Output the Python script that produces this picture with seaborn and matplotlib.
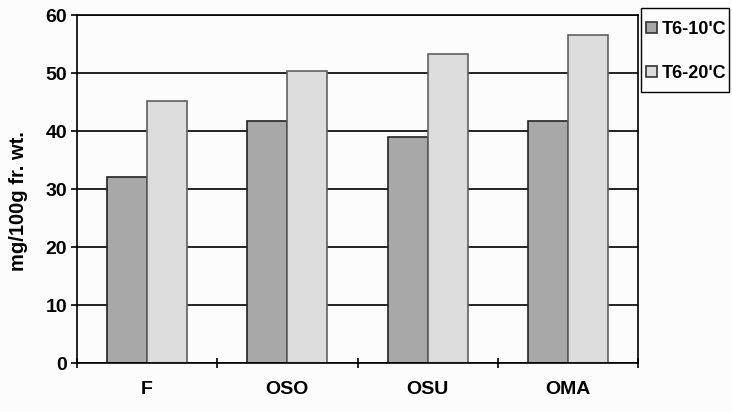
import matplotlib
matplotlib.use("Agg")
import matplotlib.pyplot as plt
import seaborn as sns
import pandas as pd
from matplotlib.ticker import FixedLocator
from matplotlib.patches import Rectangle

categories = ["F", "OSO", "OSU", "OMA"]
series_names = ["T6-10'C", "T6-20'C"]
t6_10 = [32.0, 41.7, 38.9, 41.7]
t6_20 = [45.2, 50.3, 53.3, 56.6]
y_ticks = [0, 10, 20, 30, 40, 50, 60]
y_label = "mg/100g fr. wt."

df = pd.DataFrame({
    "cat": categories * 2,
    "series": [series_names[0]] * 4 + [series_names[1]] * 4,
    "value": t6_10 + t6_20,
})

sns.set_theme(style="white")
plt.rcParams['font.family'] = ['Liberation Sans', 'DejaVu Sans']
plt.rcParams['font.weight'] = 'bold'
plt.rcParams['text.color'] = 'black'
plt.rcParams['axes.labelcolor'] = 'black'
plt.rcParams['xtick.color'] = 'black'
plt.rcParams['ytick.color'] = 'black'

W, H = 732, 412
fig = plt.figure(figsize=(W / 100, H / 100), dpi=100, facecolor="#fcfcfc")
ax = fig.add_axes([77 / W, 1 - 363 / H, (638 - 77) / W, (363 - 15) / H])
ax.set_facecolor("#fcfcfc")

palette = {series_names[0]: "#a8a8a8", series_names[1]: "#dcdcdc"}
sns.barplot(data=df, x="cat", y="value", hue="series", order=categories,
            hue_order=series_names, palette=palette, width=0.57,
            edgecolor="#333333", linewidth=1.2, saturation=1, ax=ax,
            legend=True)
edge_cols = ["#222222", "#606060"]
for cont, ec in zip(ax.containers, edge_cols):
    for p in cont:
        p.set_edgecolor(ec)

ax.set_ylim(0, 60)
ax.set_xlim(-0.5, len(categories) - 0.5)
ax.set_yticks(y_ticks)
ax.yaxis.grid(True, color="black", linewidth=1.2)
ax.xaxis.grid(False)
ax.set_axisbelow(True)
for s in ax.spines.values():
    s.set_visible(True)
    s.set_color("black")
    s.set_linewidth(1.2)

ax.tick_params(axis="y", which="major", direction="out", length=4, width=1.2,
               color="black", labelcolor="black", labelsize=14, pad=3, left=True)
ax.tick_params(axis="x", which="major", length=0, labelsize=14, pad=13,
               labelcolor="black")
ax.xaxis.set_minor_locator(FixedLocator([i - 0.5 for i in range(len(categories) + 1)]))
ax.tick_params(axis="x", which="minor", direction="inout", length=7, width=1.2,
               color="black", bottom=True)
for lab in ax.get_yticklabels() + ax.get_xticklabels():
    lab.set_fontweight("bold")

ax.set_xlabel("")
ax.set_ylabel(y_label, fontsize=14.5, fontweight="bold", color="black")
ax.yaxis.set_label_coords(-0.087, 0.466)

handles, labels = ax.get_legend_handles_labels()
ax.get_legend().remove()
leg = fig.legend(handles, labels, loc="upper left",
                 bbox_to_anchor=(646 / W, 1 - 21 / H),
                 frameon=False,
                 prop={"size": 13, "weight": "bold"},
                 handlelength=0.6, handleheight=0.6, handletextpad=0.3,
                 labelspacing=1.5, borderpad=0, borderaxespad=0)
for t in leg.get_texts():
    t.set_color("black")
fig.patches.append(Rectangle((641 / W, 1 - 92 / H), (729 - 641) / W, (92 - 8) / H,
                             transform=fig.transFigure, facecolor="none",
                             edgecolor="black", linewidth=1.0))

fig.savefig("out.png", dpi=100, facecolor=fig.get_facecolor())
